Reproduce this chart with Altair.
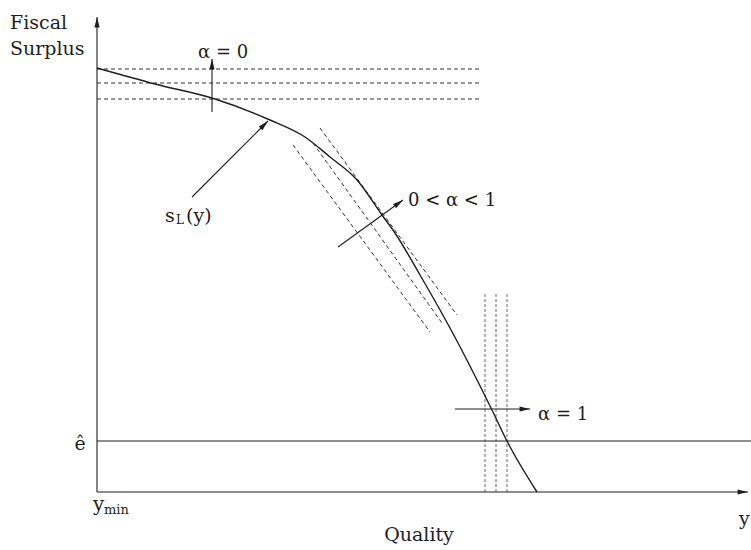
import math
import altair as alt
import pandas as pd

# Diagram coordinates: origin at (y_min, 0); x = quality, y = fiscal surplus.

# Fiscal surplus curve s_L(y)
curve_x = [0, 58, 118, 173, 208, 233, 260, 285, 298, 323, 353, 395, 411, 440]
curve_y = [424, 408, 393, 372, 355, 335, 312, 277, 259, 217, 164, 82, 49, 0]

# Horizontal iso-lines (alpha = 0)
iso_h_levels = [423, 409, 393]
iso_h_end = 385

# Tangent iso-lines (0 < alpha < 1)
iso_t_x1 = [223, 216, 196]
iso_t_y1 = [364, 349, 347]
iso_t_x2 = [360, 345, 333]
iso_t_y2 = [177, 169, 160]

# Vertical iso-lines (alpha = 1)
iso_v_levels = [388, 399, 410]
iso_v_top = 199

# Cost level e-hat and axis extents
e_hat = 51
x_axis_end = 654
y_axis_end = 470

# Arrows: start x, start y, tip x, tip y
arrow_x1 = [0, 0, 115, 95, 241, 358]
arrow_y1 = [0, 0, 380, 295, 245, 83]
arrow_x2 = [651, 0, 115, 171, 306, 433]
arrow_y2 = [0, 475, 433, 371, 292, 83]

# Labels (x, baseline y)
label_text = ["Fiscal", "Surplus", "ê", "y", "min", "Quality", "y",
              "s", "L", "(y)", "α = 0", "0 < α < 1", "α = 1"]
label_x = [-87, -87, -17, -4, 7, 322, 642, 68, 79, 89, 101, 311, 441]
label_y = [463, 437, 42, -19, -22, -49, -33, 270, 268, 270, 434, 286, 72]
label_size = [19, 19, 19, 20, 13, 19, 19, 19, 12, 19, 18, 18, 18]
label_align = ["left", "left", "center", "left", "left", "center", "left",
               "left", "left", "left", "left", "left", "left"]

xs = alt.Scale(domain=[-97, 654], nice=False, zero=False)
ys = alt.Scale(domain=[-58, 492], nice=False, zero=False)
ink = "#1e1e1e"


def X(field):
    return alt.X(f"{field}:Q", scale=xs, axis=None)


def Y(field):
    return alt.Y(f"{field}:Q", scale=ys, axis=None)


curve_df = pd.DataFrame({"x": curve_x, "y": curve_y, "i": range(len(curve_x))})
curve = alt.Chart(curve_df).mark_line(
    color=ink, strokeWidth=1.4, interpolate="monotone"
).encode(x=X("x"), y=Y("y"), order="i:O")

# Solid straight segments: e-hat line, axes and arrow shafts
seg_x1 = [0] + arrow_x1
seg_y1 = [e_hat] + arrow_y1
seg_x2 = [x_axis_end] + arrow_x2
seg_y2 = [e_hat] + arrow_y2
solid_df = pd.DataFrame({"x": seg_x1, "y": seg_y1, "x2": seg_x2, "y2": seg_y2})
solid = alt.Chart(solid_df).mark_rule(color=ink, strokeWidth=1.1).encode(
    x=X("x"), y=Y("y"), x2="x2:Q", y2="y2:Q"
)

dash_df = pd.DataFrame({
    "x": [0] * len(iso_h_levels) + iso_t_x1,
    "y": iso_h_levels + iso_t_y1,
    "x2": [iso_h_end] * len(iso_h_levels) + iso_t_x2,
    "y2": iso_h_levels + iso_t_y2,
})
dashed = alt.Chart(dash_df).mark_rule(
    color="#333", strokeWidth=1.0, strokeDash=[4, 3]
).encode(x=X("x"), y=Y("y"), x2="x2:Q", y2="y2:Q")

vdash_df = pd.DataFrame({
    "x": iso_v_levels, "y": [0] * len(iso_v_levels),
    "y2": [iso_v_top] * len(iso_v_levels),
})
vdashed = alt.Chart(vdash_df).mark_rule(
    color="#555", strokeWidth=0.9, strokeDash=[3, 2]
).encode(x=X("x"), y=Y("y"), y2="y2:Q")

# Arrowheads: the path tip sits on the point, rotated toward the arrow direction
heads = []
for x1, y1, x2, y2 in zip(arrow_x1, arrow_y1, arrow_x2, arrow_y2):
    ang = math.degrees(math.atan2(x2 - x1, y2 - y1)) % 360
    heads.append({"x": x2, "y": y2, "angle": ang})
head_df = pd.DataFrame(heads)
arrowheads = alt.Chart(head_df).mark_point(
    shape="M0,0L-0.55,2.2L0.55,2.2Z", filled=True, color=ink, opacity=1, size=90
).encode(x=X("x"), y=Y("y"), angle=alt.Angle("angle:Q", scale=None))

lab_df = pd.DataFrame({
    "x": label_x, "y": label_y, "t": label_text,
    "fs": label_size, "al": label_align,
})
layers_text = []
for al in ["left", "center"]:
    sub = lab_df[lab_df["al"] == al]
    layers_text.append(
        alt.Chart(sub).mark_text(
            font="DejaVu Serif", color=ink, align=al, baseline="alphabetic"
        ).encode(x=X("x"), y=Y("y"), text="t:N", size=alt.Size("fs:Q", scale=None))
    )

chart = alt.layer(
    dashed, vdashed, curve, solid, arrowheads, *layers_text
).properties(
    width=751, height=550, padding=0, autosize=alt.AutoSizeParams(type="none"),
    background="white",
).configure_view(stroke=None)

chart.save("out.html", embed_options={"renderer": "svg", "actions": False})
